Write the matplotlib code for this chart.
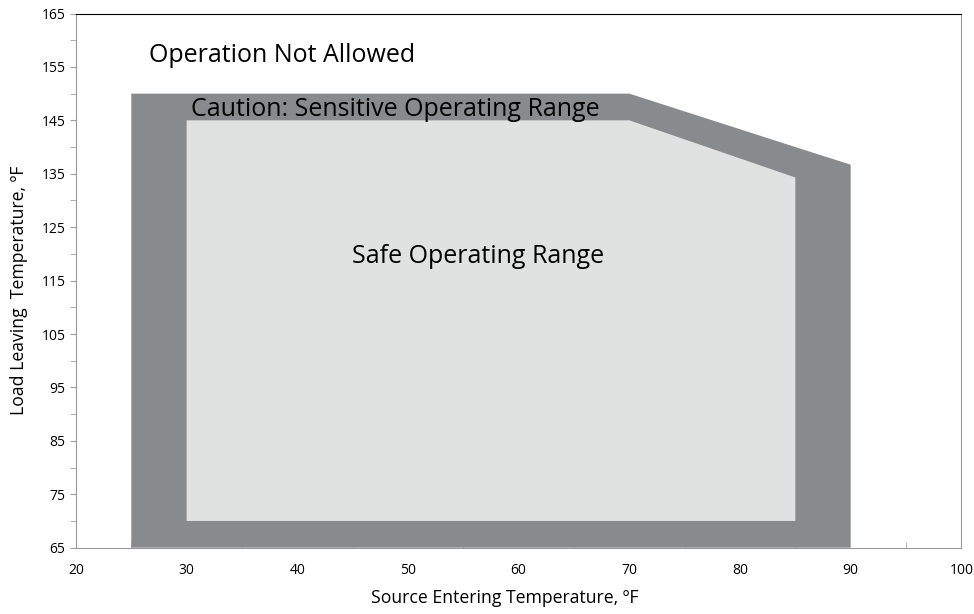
import matplotlib.pyplot as plt
from matplotlib.patches import Polygon
from matplotlib.ticker import MultipleLocator

plt.rcParams['font.family'] = ['Open Sans', 'DejaVu Sans']

# envelope outline (source entering temp, load leaving temp)
borde_x = [25, 25, 70, 85, 90, 90]
borde_y = [65, 150, 150, 140, 136.7, 65]
# safe operating range
seguro_x = [30, 30, 70, 85, 85]
seguro_y = [70, 145, 145, 134.3, 70]

x_ticks = [20, 30, 40, 50, 60, 70, 80, 90, 100]
y_ticks = [65, 75, 85, 95, 105, 115, 125, 135, 145, 155, 165]

fig = plt.figure(figsize=(9.74, 6.14), dpi=100)
ax = fig.add_axes([0.078, 0.108, 0.909, 0.87])

ax.add_patch(Polygon(list(zip(borde_x, borde_y)), closed=True,
                     facecolor='#888b8d', edgecolor='none', zorder=3, clip_on=False))
ax.add_patch(Polygon(list(zip(seguro_x, seguro_y)), closed=True,
                     facecolor='#e0e1e1', edgecolor='none', zorder=4))

ax.set_xlim(20, 100)
ax.set_ylim(65, 165)
ax.set_xticks(x_ticks)
ax.set_yticks(y_ticks)
ax.xaxis.set_minor_locator(MultipleLocator(5))
ax.yaxis.set_minor_locator(MultipleLocator(5))
ax.tick_params(axis='x', which='major', length=0, labelsize=10, pad=11)
ax.tick_params(axis='x', which='minor', direction='in', length=4, color='#a0a0a0')
ax.tick_params(axis='y', which='both', direction='out', length=4, color='#a0a0a0', labelsize=10)

for lado in ['left', 'bottom', 'right']:
    ax.spines[lado].set_color('#999999')
ax.spines['top'].set_color('black')

ax.text(26.6, 157.2, 'Operation Not Allowed', fontsize=18, va='center', ha='left', zorder=5)
ax.text(30.4, 147.1, 'Caution: Sensitive Operating Range', fontsize=18, va='center', ha='left', zorder=5)
ax.text(56.3, 119.5, 'Safe Operating Range', fontsize=18, va='center', ha='center', zorder=5)

ax.set_xlabel('Source Entering Temperature, ºF', fontsize=12.7, labelpad=8, x=0.484)
ax.set_ylabel('Load Leaving  Temperature, ºF', fontsize=12.7, labelpad=10, y=0.481)

fig.savefig('out.png', dpi=100)
